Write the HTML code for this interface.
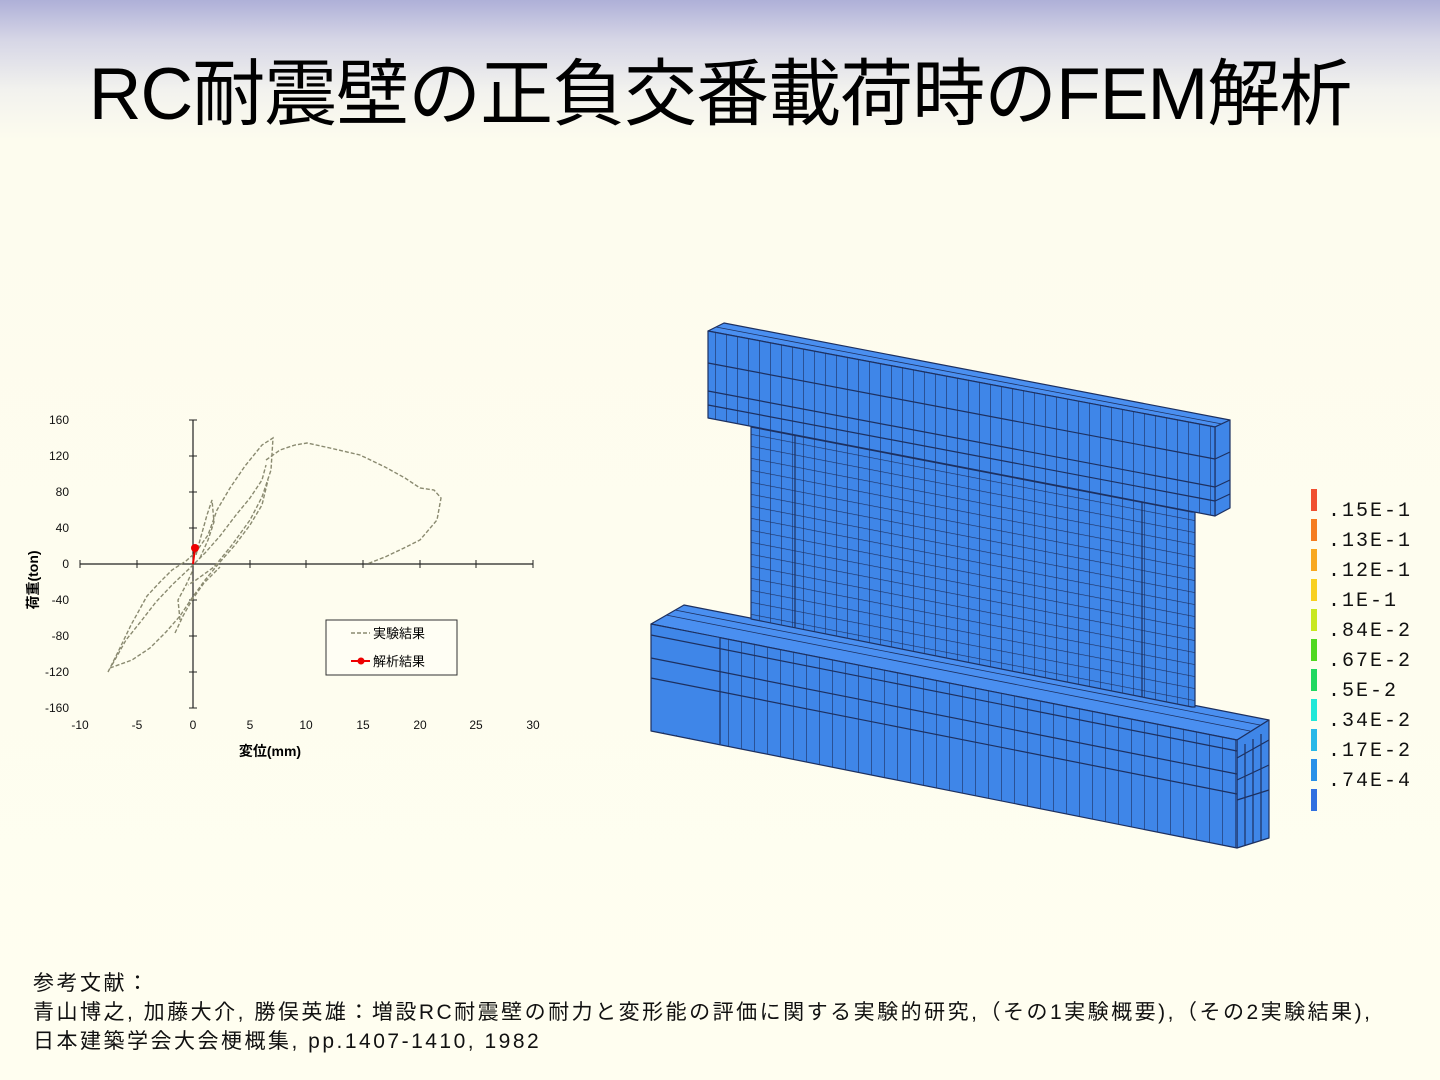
<!DOCTYPE html>
<html><head><meta charset="utf-8"><style>
html,body{margin:0;padding:0}
body{width:1440px;height:1080px;position:relative;overflow:hidden;
background:linear-gradient(#aeb0d8 0px,#d6d6e6 40px,#f2f2ee 90px,#fdfcee 140px,#fffef0 1080px);
font-family:"Liberation Sans","Noto Sans CJK JP",sans-serif;}
.title{position:absolute;left:0;width:1440px;top:51px;text-align:center;font-size:73px;line-height:88px;color:#000;letter-spacing:-1px}
.ref{position:absolute;left:33px;top:969px;font-size:21px;line-height:29px;color:#111;font-family:"Liberation Sans","Noto Sans CJK JP",sans-serif;white-space:nowrap;letter-spacing:2.5px}
.leg{position:absolute;left:1328px;font-family:"Liberation Mono","DejaVu Sans Mono",monospace;font-size:20px;color:#111;letter-spacing:2px}
</style></head><body>
<div class="title">RC耐震壁の正負交番載荷時のFEM解析</div>

<svg width="1440" height="1080" style="position:absolute;left:0;top:0">
<g stroke="#222" stroke-width="1.2" fill="none">
<line x1="80" y1="564" x2="533" y2="564"/>
<line x1="193" y1="420" x2="193" y2="708"/>
</g>
<g stroke="#222" stroke-width="1">
<line x1="80" y1="560" x2="80" y2="568"/><line x1="137" y1="560" x2="137" y2="568"/><line x1="250" y1="560" x2="250" y2="568"/><line x1="306" y1="560" x2="306" y2="568"/><line x1="363" y1="560" x2="363" y2="568"/><line x1="420" y1="560" x2="420" y2="568"/><line x1="476" y1="560" x2="476" y2="568"/><line x1="533" y1="560" x2="533" y2="568"/>
<line x1="189" y1="420" x2="197" y2="420"/><line x1="189" y1="456" x2="197" y2="456"/><line x1="189" y1="492" x2="197" y2="492"/><line x1="189" y1="528" x2="197" y2="528"/><line x1="189" y1="600" x2="197" y2="600"/><line x1="189" y1="636" x2="197" y2="636"/><line x1="189" y1="672" x2="197" y2="672"/><line x1="189" y1="708" x2="197" y2="708"/>
</g>
<g font-family="Liberation Sans,sans-serif" font-size="12" fill="#111" text-anchor="end">
<text x="69" y="424">160</text><text x="69" y="460">120</text><text x="69" y="496">80</text><text x="69" y="532">40</text><text x="69" y="568">0</text><text x="69" y="604">-40</text><text x="69" y="640">-80</text><text x="69" y="676">-120</text><text x="69" y="712">-160</text>
</g>
<g font-family="Liberation Sans,sans-serif" font-size="12" fill="#111" text-anchor="middle">
<text x="80" y="729">-10</text><text x="137" y="729">-5</text><text x="193" y="729">0</text><text x="250" y="729">5</text><text x="306" y="729">10</text><text x="363" y="729">15</text><text x="420" y="729">20</text><text x="476" y="729">25</text><text x="533" y="729">30</text>
</g>
<text x="270" y="756" font-size="14" font-weight="bold" text-anchor="middle" font-family="Liberation Sans,Noto Sans CJK JP,sans-serif">変位(mm)</text>
<text transform="translate(38,580) rotate(-90)" font-size="14" font-weight="bold" text-anchor="middle" font-family="Liberation Sans,Noto Sans CJK JP,sans-serif">荷重(ton)</text>
<g stroke="#8a8a70" stroke-width="1.4" fill="none" stroke-dasharray="4,2">
<path d="M108,672 L118,652 L131,625 L147,596 L160,582 L172,570 L186,561 L196,552 L208,535 L217,510 L230,488 L245,466 L262,445 L273,438 L271,470 L262,497 L250,520 L232,545 L214,567 L196,580 L188,585"/>
<path d="M266,460 L280,450 L295,445 L307,443 L330,448 L360,455 L385,467 L405,478 L420,488 L434,490 L441,498 L437,520 L420,540 L404,548 L385,557 L367,564"/>
<path d="M110,668 L132,660 L150,648 L166,632 L180,616 L192,598 L205,580 L220,562 L235,545 L250,525 L262,505 L268,480"/>
<path d="M112,665 L126,640 L142,620 L156,602 L172,585 L190,568 L205,553 L220,536 L236,515 L250,498 L262,480 L266,465"/>
<path d="M200,558 L208,540 L214,522 L212,500 L207,515 L200,540 L196,555"/>
<path d="M180,620 L178,600 L186,585 L193,570"/>
<path d="M175,633 L183,616 L192,600 L204,583 L220,567"/>
</g>
<line x1="193" y1="564" x2="195" y2="548" stroke="#e00" stroke-width="2"/>
<circle cx="195" cy="548" r="4" fill="#e00"/>
<rect x="326" y="620" width="131" height="55" fill="#fffef4" stroke="#333" stroke-width="1"/>
<line x1="351" y1="633" x2="370" y2="633" stroke="#8a8a70" stroke-width="1.4" stroke-dasharray="4,2"/>
<line x1="351" y1="661" x2="370" y2="661" stroke="#e00" stroke-width="2"/><circle cx="361" cy="661" r="3.5" fill="#e00"/>
<text x="373" y="638" font-size="13" font-family="Liberation Sans,Noto Sans CJK JP,sans-serif">実験結果</text>
<text x="373" y="666" font-size="13" font-family="Liberation Sans,Noto Sans CJK JP,sans-serif">解析結果</text>

<defs>
<pattern id="wg" width="11" height="12" patternUnits="userSpaceOnUse" patternTransform="skewY(11)">
<rect width="11" height="12" fill="#3f86e8"/>
<path d="M0,0 L0,12 M0,0 L11,0" stroke="#1d3060" stroke-width="1.2"/>
</pattern>
<pattern id="vg" width="11" height="400" patternUnits="userSpaceOnUse">
<rect width="11" height="400" fill="#3f86e8"/>
<path d="M0,0 L0,400" stroke="#1d3060" stroke-width="1.2"/>
</pattern>
<pattern id="vg2" width="13" height="400" patternUnits="userSpaceOnUse">
<rect width="13" height="400" fill="#3f86e8"/>
<path d="M0,0 L0,400" stroke="#1d3060" stroke-width="1.2"/>
</pattern>
</defs>
<g stroke="#1d3060" stroke-width="1.2" stroke-linejoin="round">
<polygon points="651,624 684,605 1269,720 1237,740" fill="#4a8ff0"/>
<polygon points="1237,740 1269,720 1269,838 1237,848" fill="#3f86e8"/>
<polygon points="651,624 1237,740 1237,848 651,731" fill="url(#vg2)"/>
<polygon points="652,625 720,638 720,744 652,730" fill="#3f86e8" stroke="none"/>
<path d="M720,638 L720,744 M651,635 L1237,751 M651,658 L1237,774 M651,678 L1237,794 M1237,758 L1269,740 M1237,780 L1269,765 M1237,800 L1269,790 M1245,744 L1245,846 M1253,739 L1253,843 M1261,734 L1261,840" fill="none"/>
<path d="M666,615 L1250,731 M675,610 L1260,725" fill="none" stroke-width="0.8"/>
<polygon points="751,427 1192,512 1195,512 1195,707 1192,707 751,619" fill="url(#wg)"/>
<path d="M795,434 L795,628 M1142,500 L1142,697" fill="none"/>
<polygon points="708,331 724,323 1230,420 1215,427" fill="#4a8ff0"/>
<path d="M716,327 L1222,424" fill="none" stroke-width="0.8"/>
<polygon points="1215,427 1230,420 1230,508 1215,516" fill="#3f86e8"/>
<polygon points="708,331 1215,427 1215,516 708,418" fill="url(#vg)"/>
<path d="M708,363 L1215,459 M708,391 L1215,487 M708,405 L1215,501 M1215,459 L1230,452 M1215,487 L1230,480 M1215,501 L1230,494" fill="none"/>
</g>
</svg>

<div style="position:absolute;left:1311px;top:489px;width:6px;height:320px">
<div style="height:22px;background:#f05030;margin-bottom:8px"></div>
<div style="height:22px;background:#f57c20;margin-bottom:8px"></div>
<div style="height:22px;background:#f8a820;margin-bottom:8px"></div>
<div style="height:22px;background:#f8d020;margin-bottom:8px"></div>
<div style="height:22px;background:#c8e820;margin-bottom:8px"></div>
<div style="height:22px;background:#50d820;margin-bottom:8px"></div>
<div style="height:22px;background:#20d860;margin-bottom:8px"></div>
<div style="height:22px;background:#20e8d8;margin-bottom:8px"></div>
<div style="height:22px;background:#28b8e8;margin-bottom:8px"></div>
<div style="height:22px;background:#2890e8;margin-bottom:8px"></div>
<div style="height:22px;background:#3070e0"></div>
</div>
<div class="leg" style="top:500px">.15E-1</div>
<div class="leg" style="top:530px">.13E-1</div>
<div class="leg" style="top:560px">.12E-1</div>
<div class="leg" style="top:590px">.1E-1</div>
<div class="leg" style="top:620px">.84E-2</div>
<div class="leg" style="top:650px">.67E-2</div>
<div class="leg" style="top:680px">.5E-2</div>
<div class="leg" style="top:710px">.34E-2</div>
<div class="leg" style="top:740px">.17E-2</div>
<div class="leg" style="top:770px">.74E-4</div>

<div class="ref">参考文献：<br>青山博之, 加藤大介, 勝俣英雄：増設RC耐震壁の耐力と変形能の評価に関する実験的研究,（その1実験概要),（その2実験結果),<br>日本建築学会大会梗概集, pp.1407-1410, 1982</div>
</body></html>
